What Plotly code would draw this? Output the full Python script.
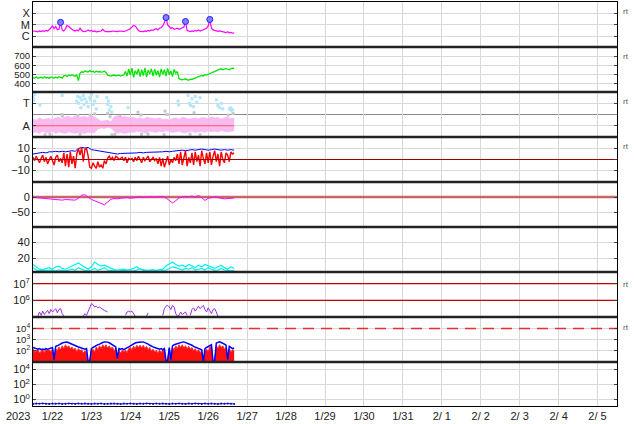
import pandas as pd
import plotly.graph_objects as go
from plotly.subplots import make_subplots

START = pd.Timestamp('2023-01-21 12:00')
RANGE_END = pd.Timestamp('2023-02-05 12:00')

day_ticks = list(pd.date_range('2023-01-22', '2023-02-05', freq='D'))
day_labels = ['1/22', '1/23', '1/24', '1/25', '1/26', '1/27', '1/28', '1/29', '1/30',
              '1/31', '2/ 1', '2/ 2', '2/ 3', '2/ 4', '2/ 5']
year_label = '2023'

# ---------------- panel 1: X-ray (log10 flux), hourly ----------------
xray_log = [-5.55, -5.60, -5.58, -5.62, -5.55, -5.60, -5.52, -5.58, -5.50, -5.55,
            -5.45, -5.30, -5.10, -5.35, -5.15, -5.45, -5.40, -4.78, -5.45, -5.55,
            -5.35, -5.05, -5.15, -5.30, -5.40, -5.50, -5.55, -5.45, -5.55, -5.30,
            -5.50, -5.58, -5.60, -5.55, -5.45, -5.55, -5.50, -5.60, -5.55, -5.62,
            -5.58, -5.60, -5.55, -5.40, -5.55, -5.60, -5.62, -5.58, -5.60, -5.55,
            -5.58, -5.62, -5.60, -5.55, -5.58, -5.60, -5.58, -5.55, -5.50, -5.45,
            -5.35, -5.20, -5.05, -5.10, -5.35, -5.50, -5.58, -5.62, -5.60, -5.55,
            -5.58, -5.50, -5.55, -5.45, -5.50, -5.40, -5.35, -5.45, -5.30, -5.25,
            -5.10, -4.80, -4.35, -5.00, -5.20, -5.30, -5.25, -5.40, -5.35, -5.30,
            -5.40, -5.35, -5.30, -5.20, -4.70, -5.50, -5.55, -5.60, -5.55, -5.58,
            -5.50, -5.55, -5.45, -5.55, -5.50, -5.45, -5.40, -5.30, -5.10, -4.52,
            -5.30, -5.45, -5.50, -5.55, -5.58, -5.55, -5.60, -5.62, -5.65, -5.70,
            -5.62, -5.72, -5.68, -5.75, -5.72]
flare_times = ['2023-01-22 05:00', '2023-01-24 22:00', '2023-01-25 10:00', '2023-01-26 01:00']
flare_log = [-4.78, -4.35, -4.70, -4.52]

# ---------------- panel 2: solar wind speed, hourly ----------------
speed = [462, 458, 470, 455, 463, 468, 457, 472, 460, 466, 455, 470, 462, 458, 468, 460, 473, 465, 457,
         482, 488, 476, 490, 483, 495, 486, 479, 492,
         430,
         512, 527, 520, 535, 530, 524, 540, 527, 533, 520, 536, 525, 530, 523, 527, 533, 520,
         490, 485, 480, 488, 492, 482, 486, 490, 480, 488, 495,
         530, 480, 555, 490, 568, 465, 540, 500, 560, 475, 550, 485, 570, 470, 545, 505, 560,
         480, 555, 490, 540, 470, 560, 500, 550, 480, 565, 495, 535, 475, 555, 510, 530,
         452, 445, 438, 443, 450, 440, 435, 447, 442, 452, 458, 462,
         475, 480, 488, 482, 495, 490, 500, 505, 515, 525, 530, 535,
         548, 555, 560, 550, 557, 565, 555, 550, 562, 568, 565]

# ---------------- panel 3: T / A ----------------
t_hours = [0, 0.5, 1, 4.3, 18, 27, 27.5, 28, 29, 29.5, 30, 31, 31.5, 32, 33,
           34, 35, 35.5, 36, 37, 38, 39, 39.5, 45.5, 46, 46.5, 47, 48, 48.5, 58.6,
           89.4, 89.8, 95.6, 96.5, 97, 98, 99, 100, 101, 103, 113, 114, 115, 116, 117,
           121, 122, 123]
t_vals = [3.6, 3.3, 3.8, 2.85, 3.7, 3.2, 3.6, 3.0, 3.5, 2.6, 3.3, 3.7, 2.9, 3.4, 3.1,
          2.7, 3.5, 3.3, 3.8, 2.9, 3.2, 2.5, 3.6, 3.5, 2.9, 3.2, 2.4, 2.7, 2.2, 2.6,
          3.2, 2.85, 3.7, 3.0, 2.8, 3.4, 2.7, 3.6, 3.1, 3.5, 3.3, 2.8, 2.6, 3.0, 2.5,
          2.5, 2.6, 2.4]
gray_hours = [7.4, 10.5, 17.9, 18.2, 27.7, 29, 35, 38, 46, 47.5, 48.7, 50.5, 53.6,
              64.7, 66.6, 66.9, 70.9, 80.8, 81.4, 82.6, 96.8, 99.3, 103, 120.2, 122, 123.3]
gray_vals = [0.2, 0.22, 2.0, 1.85, 1.9, 0.25, 1.95, 2.05, 2.1, 1.8, 0.2, 0.25, 1.85,
             2.2, 1.95, 0.22, 0.25, 0.2, 2.3, 2.0, 0.25, 2.15, 0.2, 1.95, 2.4, 2.1]
pink_hi = [1.6, 1.5, 1.7, 1.55, 1.6, 1.65, 1.5, 1.7, 1.75, 1.6,
           1.8, 1.85, 1.7, 1.9, 1.75, 1.8, 1.85, 1.7, 1.9, 1.8,
           1.6, 1.4, 1.45, 1.5, 1.35, 1.8, 1.9, 1.75, 1.85, 1.8,
           1.7, 1.75, 1.65, 1.7, 1.6, 1.75, 1.7, 1.65, 1.6, 1.7,
           1.55, 1.6, 1.5, 1.65, 1.7, 1.6, 1.75, 1.7, 1.6, 1.65,
           1.7, 1.6, 1.75, 1.7, 1.65, 1.8, 1.7, 1.75, 1.6, 1.7,
           1.75, 1.65, 1.7]
pink_lo = [0.35, 0.45, 0.3, 0.5, 0.4, 0.35, 0.5, 0.3, 0.45, 0.4,
           0.3, 0.45, 0.35, 0.3, 0.4, 0.35, 0.3, 0.45, 0.35, 0.4,
           0.7, 0.8, 0.75, 0.85, 0.8, 0.5, 0.35, 0.4, 0.3, 0.35,
           0.45, 0.4, 0.5, 0.45, 0.4, 0.35, 0.5, 0.45, 0.4, 0.5,
           0.45, 0.55, 0.5, 0.4, 0.45, 0.5, 0.4, 0.35, 0.45, 0.5,
           0.4, 0.45, 0.5, 0.4, 0.55, 0.45, 0.5, 0.45, 0.55, 0.5,
           0.45, 0.5, 0.55]
a_level = 1
a_tick_vals = [1, 3]
a_tick_text = ['A', 'T']

# ---------------- panel 4: IMF Bt (2-hourly) and Bz (hourly) ----------------
bt = [5, 5.5, 6, 6.5, 6, 7,
      7, 7.5, 7, 7.5, 7, 7.5, 8, 7.5,
      10, 11, 10.5, 11,
      9, 8.5, 8, 7, 6.5, 6,
      5.5, 5.5, 5, 5.5, 5.5, 6, 5.5,
      6, 6, 6.5, 6, 6.5, 6.5, 7, 6.5, 7, 7, 7.5, 7, 7.5, 8,
      8, 8.5, 8, 8.5, 9, 8.5, 9, 9.5, 9, 8.5, 9, 9.5, 9, 8.5, 9, 8.5, 9, 8.5]
bz = [2, -1, 3, 0, -3, 1, 4, -2, 2, -4, 0, 3, -1, -5, 2, 4, -2, 1, -3,
      6, -6, 5, -7, 7, -4, 3, -8, 5,
      10, 4, 11, -2, 9, 10, 3,
      -7, -8, -3, -6, -8, -2, -7, -5, -8, -1, -4,
      1, 3, 0, 2, -1, 3, 2, 0, 1, 2,
      -1, 2, -3, 1, 0,
      1, -2, 2, -1, 3, 0, -3, 2, -1, 1, 3, -2, 0, 2, -1, 1,
      -4, 2, -6, 1, -7, -2, 3, -5, 0, -3, 2, -1,
      5, -4, 7, -5, 3, 8, -6, 2, -3, 6, -5, 7, -2, 4, -6, 8, 1, -4, 6, -3,
      7, -5, 3, 8, -2, 5, -6, 7, 0, -3, 6, 4, -2, 7, 5, 6]

# ---------------- panel 5: Dst (2-hourly) ----------------
dst = [-1, -2, -3, -5, -6, -8, -9, -10, -9, -10, -8, -9, -11, -10, -4,
       6, 7, -2, -8, -12, -16, -22, -25, -16, -7,
       -5, -6, -4, -3, -2, -4, -2, -1, 0, -2,
       0, 1, -1, 0, 3, 2, -3, -10, -19, -12,
       -3, 0, 2, 1, 3, 0, 5, -2, -11, -4,
       -1, 0, -2, -4, -6, -5, -4, -3]

# ---------------- panel 6: two cyan series (2-hourly) ----------------
cyan_a = [12, 9, 6, 5.5, 7, 8, 6, 9, 10, 7,
          6, 8, 10, 12, 14, 11, 8, 6, 9, 15,
          12, 10, 11, 9, 7, 5.5, 5, 5.5, 6, 5,
          5.5, 7, 9, 6, 5, 4.5, 5, 5.5, 4.5, 5,
          6, 10, 13, 15, 12, 10, 11, 9, 12, 10,
          8, 11, 9, 12, 10, 8, 7, 9, 11, 8,
          6, 9, 7]
cyan_b = [8, 5, 4, 4.5, 4, 5, 4.5, 4, 5, 4.5,
          4, 5, 6, 4.5, 8, 6, 4.5, 4, 5, 7,
          4.5, 6, 8, 5, 4.5, 4, 3.5, 4, 4.5, 4,
          3.5, 4, 5, 7, 4.5, 3.5, 4, 3.5, 4, 3.5,
          4, 5, 7, 9, 8, 6, 5, 7, 6, 8,
          5, 6, 7, 5, 8, 6, 4.5, 5, 7, 5,
          4.5, 4, 4.5]

# ---------------- panel 7: purple (log10), hourly with gaps ----------------
N = None
purple_log = [N, N, N,
              5.05, 5.3, 5.1, 5.35, 5.15, 5.3, 5.4, 5.2, 5.45, 5.3, 5.4, 5.5, 5.25, 5.45, 5.5, 5.2, 5.05,
              N, N, N, N, N, N, N, N, N, N, N,
              5.05, 5.2, 5.1, 5.35, 5.55, 5.8, 5.75, 5.6, 5.65, 5.55, 5.6, 5.5, 5.45, 5.4, 5.35, 5.3,
              N, N, N, N, N, N, N, N, N, N,
              5.1, 5.3, 5.35, 5.3, 5.35, 5.2, 5.05,
              N, N, N, N, N, N,
              5.05, 5.25,
              N, N, N, N, N, N, N, N,
              5.1, 5.5, 5.65, 5.7, 5.6, 5.45, 5.7, 5.6, 5.2, 5.05,
              5.1, 5.3, 5.15, 5.25, 5.3, 5.1,
              N,
              5.1, 5.45, 5.55, 5.35, 5.5, 5.65, 5.5, 5.6, 5.7, 5.45, 5.3, 5.55, 5.4, 5.2, 5.45, 5.5, 5.3, 5.05,
              N, N, N, N, N, N, N, N, N, N]
p7_thresholds = [1e7, 1e6]

# ---------------- panel 8: electrons (log10), hourly ----------------
blue8_log = [2.3, 2.25, 2.2, 2.15, 2.2, 2.1, 2.15, 2.1, 2.2, 2.15,
             2.2, 2.25, 2.3, 1.2, 2.4, 2.45, 2.55, 2.6, 2.7, 2.75,
             2.8, 2.78, 2.72, 2.65, 2.6, 2.5, 2.45, 2.4, 2.35, 2.3,
             2.25, 2.2, 2.15, 2.2, 1.0, 1.1, 2.2, 2.3, 2.4, 2.5,
             2.55, 2.6, 2.7, 2.75, 2.8, 2.8, 2.78, 2.72, 2.65, 2.55,
             2.45, 2.35, 1.3, 2.2, 2.15, 2.2, 2.1, 2.2, 2.25, 2.35,
             2.45, 2.55, 2.6, 2.7, 2.75, 2.78, 2.8, 2.78, 2.8, 2.75,
             2.7, 2.6, 2.5, 2.4, 2.35, 2.3, 2.25, 2.2, 2.15, 2.2,
             2.1, 2.2, 1.1, 1.15, 2.3, 1.2, 2.45, 2.55, 2.6, 2.7,
             2.75, 2.8, 2.78, 2.8, 2.75, 2.7, 2.65, 2.55, 2.5, 2.4,
             2.35, 2.3, 2.25, 2.2, 2.1, 1.0, 2.2, 2.3, 2.4, 2.5,
             2.55, 1.0, 1.1, 2.7, 2.75, 2.8, 2.75, 2.7, 2.6, 2.5,
             1.2, 2.4, 2.3, 2.2, 2.25]
# upper edge of the red band (half-hourly alternating peaks/troughs)
red8_hi = [2.2, 1.9, 2.0, 2.15, 1.8, 1.95, 2.1, 1.85, 2.1, 2.05,
           2.1, 1.9, 2.2, 1.3, 2.2, 2.0, 2.35, 2.1, 2.45, 2.2,
           2.55, 2.3, 2.45, 2.2, 2.35, 2.1, 2.25, 1.9, 2.2, 2.0,
           2.1, 1.8, 2.0, 1.9, 1.05, 1.1, 2.0, 2.15, 1.9, 2.35,
           2.1, 2.45, 2.2, 2.55, 2.3, 2.55, 2.25, 2.45, 2.2, 2.35,
           2.0, 2.2, 1.2, 2.05, 1.8, 2.05, 1.9, 2.05, 1.85, 2.2,
           2.3, 2.1, 2.4, 2.2, 2.5, 2.3, 2.5, 2.25, 2.5, 2.2,
           2.4, 2.1, 2.3, 2.0, 2.15, 1.9, 2.05, 1.8, 2.05, 1.85,
           2.05, 2.1, 1.1, 1.1, 2.2, 1.3, 2.3, 2.1, 2.45, 2.2,
           2.55, 2.3, 2.55, 2.25, 2.45, 2.2, 2.4, 2.15, 2.3, 2.0,
           2.2, 1.9, 2.1, 1.85, 2.0, 1.05, 2.0, 2.15, 1.9, 2.35,
           2.4, 1.05, 1.1, 2.45, 2.2, 2.55, 2.3, 2.45, 2.15, 2.3,
           1.2, 2.2, 1.9, 2.1, 2.0]
p8_floor = 10 ** 0.98
p8_threshold = 1e4

# ---------------- panel 9: blue (log10), 2-hourly ----------------
blue9_log = [-0.62, -0.58, -0.6, -0.55, -0.6, -0.63, -0.57, -0.6, -0.58, -0.62,
             -0.6, -0.56, -0.6, -0.62, -0.58, -0.6, -0.55, -0.6, -0.62, -0.58,
             -0.6, -0.57, -0.62, -0.6, -0.58, -0.55, -0.6, -0.62, -0.58, -0.6,
             -0.57, -0.6, -0.63, -0.58, -0.6, -0.56, -0.6, -0.62, -0.58, -0.6,
             -0.55, -0.6, -0.62, -0.58, -0.6, -0.57, -0.6, -0.62, -0.58, -0.6,
             -0.56, -0.6, -0.62, -0.58, -0.6, -0.57, -0.6, -0.62, -0.58, -0.6,
             -0.58, -0.6, -0.62]


def hourly(arr):
    return pd.date_range(START, periods=len(arr), freq='h')


def two_hourly(arr):
    return pd.date_range(START, periods=len(arr), freq='2h')


def at_hours(hours):
    return START + pd.to_timedelta(hours, unit='h')


def pw(v):
    return None if v is None else 10 ** v


FULL_X = [START, RANGE_END]
DATA_X = [START, hourly(xray_log)[-1]]

fig = make_subplots(rows=9, cols=1, shared_xaxes=True, vertical_spacing=0)

# panel 1
fig.add_trace(go.Scatter(x=hourly(xray_log), y=[pw(v) for v in xray_log], mode='lines',
                         line=dict(color='#ff00ff', width=1.2)), row=1, col=1)
fig.add_trace(go.Scatter(x=pd.to_datetime(flare_times), y=[pw(v) for v in flare_log], mode='markers',
                         marker=dict(symbol='circle', size=6, color='#7f7fff',
                                     line=dict(color='#2020ff', width=1))), row=1, col=1)
# panel 2
fig.add_trace(go.Scatter(x=hourly(speed), y=speed, mode='lines',
                         line=dict(color='#00e600', width=1.3)), row=2, col=1)
# panel 3
fig.add_trace(go.Scatter(x=at_hours(gray_hours), y=gray_vals, mode='markers',
                         marker=dict(symbol='square', size=3, color='#c8c8c8')), row=3, col=1)
fig.add_trace(go.Scatter(x=two_hourly(pink_lo), y=pink_lo, mode='lines',
                         line=dict(color='#f6b4f0', width=0.5)), row=3, col=1)
fig.add_trace(go.Scatter(x=two_hourly(pink_hi), y=pink_hi, mode='lines', fill='tonexty',
                         fillcolor='rgba(246,175,240,0.85)', line=dict(color='#f6b4f0', width=0.5)), row=3, col=1)
fig.add_trace(go.Scatter(x=at_hours(t_hours), y=t_vals, mode='markers',
                         marker=dict(symbol='square', size=3, color='#b0e6f8')), row=3, col=1)
fig.add_trace(go.Scatter(x=DATA_X, y=[a_level, a_level], mode='lines',
                         line=dict(color='#ff5a5a', width=1)), row=3, col=1)
# panel 4
fig.add_trace(go.Scatter(x=two_hourly(bt), y=bt, mode='lines',
                         line=dict(color='#0000ff', width=1)), row=4, col=1)
fig.add_trace(go.Scatter(x=hourly(bz), y=bz, mode='lines',
                         line=dict(color='#ff0000', width=1.4)), row=4, col=1)
fig.add_trace(go.Scatter(x=FULL_X, y=[0, 0], mode='lines',
                         line=dict(color='#a00000', width=1)), row=4, col=1)
# panel 5
fig.add_trace(go.Scatter(x=FULL_X, y=[0, 0], mode='lines',
                         line=dict(color='rgba(190,80,80,0.85)', width=2.5)), row=5, col=1)
fig.add_trace(go.Scatter(x=two_hourly(dst), y=dst, mode='lines',
                         line=dict(color='#ff00ff', width=1)), row=5, col=1)
# panel 6
fig.add_trace(go.Scatter(x=two_hourly(cyan_a), y=cyan_a, mode='lines',
                         line=dict(color='#00f0f0', width=1.2)), row=6, col=1)
fig.add_trace(go.Scatter(x=two_hourly(cyan_b), y=cyan_b, mode='lines',
                         line=dict(color='#00f0f0', width=1.2)), row=6, col=1)
# panel 7
for th in p7_thresholds:
    fig.add_trace(go.Scatter(x=FULL_X, y=[th, th], mode='lines',
                             line=dict(color='#c00000', width=1.2)), row=7, col=1)
fig.add_trace(go.Scatter(x=hourly(purple_log), y=[pw(v) for v in purple_log], mode='lines',
                         connectgaps=False, line=dict(color='#a030e0', width=1)), row=7, col=1)
# panel 8
fig.add_trace(go.Scatter(x=FULL_X, y=[p8_threshold, p8_threshold], mode='lines',
                         line=dict(color='#e03030', width=1.5, dash='11px,7px')), row=8, col=1)
fig.add_trace(go.Scatter(x=DATA_X, y=[p8_floor, p8_floor], mode='lines',
                         line=dict(color='rgba(0,0,0,0)', width=0)), row=8, col=1)
fig.add_trace(go.Scatter(x=hourly(red8_hi), y=[pw(v) for v in red8_hi], mode='lines', fill='tonexty',
                         fillcolor='#ff1010', line=dict(color='#ff3030', width=1)), row=8, col=1)
fig.add_trace(go.Scatter(x=hourly(blue8_log), y=[pw(v) for v in blue8_log], mode='lines',
                         line=dict(color='#0000ff', width=1.5)), row=8, col=1)
# panel 9
fig.add_trace(go.Scatter(x=two_hourly(blue9_log), y=[pw(v) for v in blue9_log], mode='lines+markers',
                         marker=dict(size=2, color='#0000cc'),
                         line=dict(color='#2020dd', width=1)), row=9, col=1)

# ---------------- layout ----------------
W, H = 634, 424
ML, MR, MT, MB = 33, 17, 2, 18
bounds_px = [2, 47, 92, 137, 182, 227, 272, 317, 362, 406]
plot_h = H - MT - MB


def py(ypx):
    return (H - MB - ypx) / plot_h


FONT = dict(family='Liberation Sans, Arial, sans-serif', size=11, color='#222222')
FONT_S = dict(family='Liberation Sans, Arial, sans-serif', size=9.5, color='#222222')

for i in range(9):
    r = i + 1
    fig.update_yaxes(domain=[py(bounds_px[i + 1]), py(bounds_px[i])], row=r, col=1)

common_y = dict(showline=True, linecolor='black', linewidth=1, mirror='ticks', ticks='inside',
                ticklen=3, tickcolor='#444', showgrid=True, gridcolor='#d8d8d8', gridwidth=1,
                zeroline=False, tickfont=FONT, fixedrange=True)
fig.update_yaxes(**common_y)

sup = lambda e: '10<sup>%s</sup>' % e
fig.update_yaxes(type='log', range=[-6.98, -2.96], tickvals=[1e-6, 1e-5, 1e-4],
                 ticktext=['C', 'M', 'X'], row=1, col=1)
fig.update_yaxes(range=[305, 800], tickvals=[400, 500, 600, 700], tickfont=FONT_S, row=2, col=1)
fig.update_yaxes(range=[0, 4], tickvals=a_tick_vals, ticktext=a_tick_text, row=3, col=1)
fig.update_yaxes(range=[-20.5, 20.5], tickvals=[-10, 0, 10], row=4, col=1)
fig.update_yaxes(range=[-96, 48], tickvals=[-50, 0], row=5, col=1)
fig.update_yaxes(range=[2.5, 59], tickvals=[20, 40], row=6, col=1)
fig.update_yaxes(type='log', range=[5.0, 7.7], tickvals=[1e6, 1e7],
                 ticktext=[sup(6), sup(7)], row=7, col=1)
fig.update_yaxes(type='log', range=[1.0, 5.03], tickvals=[1e2, 1e3, 1e4],
                 ticktext=[sup(2), sup(3), sup(4)], tickfont=FONT_S, row=8, col=1)
fig.update_yaxes(type='log', range=[-0.9, 5.0], tickvals=[1e0, 1e2, 1e4],
                 ticktext=[sup(0), sup(2), sup(4)], row=9, col=1)

fig.update_xaxes(type='date', range=[START, RANGE_END], tickvals=day_ticks, ticktext=day_labels,
                 showgrid=True, gridcolor='#d8d8d8', gridwidth=1, showline=True, linecolor='black',
                 linewidth=1, mirror=True, ticks='', tickfont=FONT, zeroline=False, fixedrange=True)

shapes = []
for b in bounds_px[1:-1]:
    shapes.append(dict(type='line', xref='paper', yref='paper', x0=0, x1=1, y0=py(b), y1=py(b),
                       line=dict(color='#222222', width=2.5)))
shapes.append(dict(type='line', xref='paper', yref='y3', x0=0, x1=1, y0=2, y1=2,
                   line=dict(color='#8a8a8a', width=1), layer='below'))

annotations = []
for ypx in [11, 56, 101, 146, 284, 327]:
    annotations.append(dict(text='rt', xref='paper', yref='paper', x=1.006, y=py(ypx),
                            xanchor='left', yanchor='middle', showarrow=False,
                            font=dict(family='Liberation Sans, Arial, sans-serif', size=8, color='#555')))
annotations.append(dict(text=year_label, xref='paper', yref='paper', x=(18 - ML) / (W - ML - MR),
                        y=py(416), xanchor='center', yanchor='middle', showarrow=False, font=FONT))

fig.update_layout(width=W, height=H, margin=dict(l=ML, r=MR, t=MT, b=MB),
                  showlegend=False, plot_bgcolor='white', paper_bgcolor='white',
                  shapes=shapes, annotations=annotations)

fig.write_html('out.html', config={'displayModeBar': False},
               post_script="document.body.style.margin='0px';document.body.style.padding='0px';")
